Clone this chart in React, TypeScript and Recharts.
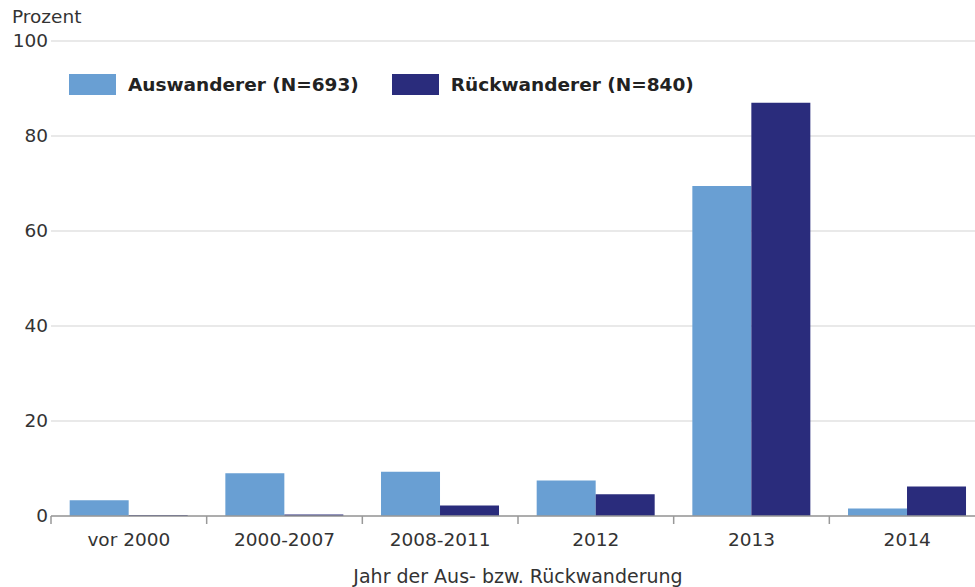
import React from "react";
import { BarChart, Bar, XAxis, YAxis, CartesianGrid, Legend } from "recharts";

const categories = ["vor 2000", "2000-2007", "2008-2011", "2012", "2013", "2014"];
const auswanderer = [3.3, 9.0, 9.3, 7.5, 69.5, 1.6];
const rueckwanderer = [0.2, 0.3, 2.2, 4.6, 87.0, 6.2];
const yTicks = [0, 20, 40, 60, 80, 100];

const AUS_COLOR = "#699fd3";
const RUECK_COLOR = "#2a2c7c";
const FONT = "'DejaVu Sans', Verdana, sans-serif";

const data = categories.map((cat, i) => ({
  cat,
  aus: auswanderer[i],
  rueck: rueckwanderer[i],
}));

// eslint-disable-next-line @typescript-eslint/no-explicit-any
function XTick(props: any) {
  const { x, y, payload, width, visibleTicksCount } = props;
  const half = width / (visibleTicksCount || categories.length) / 2;
  return (
    <g>
      <line x1={x - half} y1={y - 8} x2={x - half} y2={y} stroke="#999" strokeWidth={1.5} />
      <text x={x} y={y + 22} textAnchor="middle" fill="#333" fontSize={18.5} fontFamily={FONT}>
        {payload.value}
      </text>
    </g>
  );
}

// eslint-disable-next-line @typescript-eslint/no-explicit-any
function YTick(props: any) {
  const { y, payload } = props;
  return (
    <text x={48} y={y + 6} textAnchor="end" fill="#333" fontSize={18.5} fontFamily={FONT}>
      {payload.value}
    </text>
  );
}

function renderLegend() {
  const items = [
    { label: "Auswanderer (N=693)", color: AUS_COLOR },
    { label: "Rückwanderer (N=840)", color: RUECK_COLOR },
  ];
  return (
    <div style={{ display: "flex", alignItems: "center", fontFamily: FONT, whiteSpace: "nowrap" }}>
      {items.map((it) => (
        <span
          key={it.label}
          style={{ display: "inline-flex", alignItems: "center", marginRight: 33 }}
        >
          <span style={{ width: 47, height: 21, backgroundColor: it.color, marginRight: 12 }} />
          <span style={{ fontWeight: 700, fontSize: 18.5, color: "#222" }}>{it.label}</span>
        </span>
      ))}
    </div>
  );
}

export default function App() {
  return (
    <div
      style={{
        position: "absolute",
        left: 0,
        top: 0,
        width: 975,
        height: 587,
        overflow: "hidden",
        background: "#fff",
      }}
    >
      <div
        style={{
          position: "absolute",
          left: 12,
          top: 6,
          fontFamily: FONT,
          fontSize: 18.5,
          color: "#333",
        }}
      >
        Prozent
      </div>
      <BarChart
        width={1000}
        height={587}
        data={data}
        margin={{ top: 41, right: 15, bottom: 0, left: 0 }}
        barCategoryGap="12%"
        barGap={0}
      >
        <CartesianGrid vertical={false} stroke="#d4d4d4" strokeWidth={1.2} />
        <XAxis
          dataKey="cat"
          height={71}
          stroke="#999"
          strokeWidth={1.5}
          tickLine={false}
          tick={<XTick />}
          interval={0}
          label={{
            value: "Jahr der Aus- bzw. Rückwanderung",
            position: "insideBottom",
            offset: 4,
            style: { fontFamily: FONT, fontSize: 19, fill: "#333" },
          }}
        />
        <YAxis
          width={51}
          domain={[0, 100]}
          ticks={yTicks}
          axisLine={false}
          tickLine={false}
          tick={<YTick />}
        />
        <Legend
          content={renderLegend}
          layout="horizontal"
          verticalAlign="middle"
          align="center"
          wrapperStyle={{ position: "absolute", top: 74, left: 69, width: "auto" }}
        />
        <Bar dataKey="aus" name="Auswanderer (N=693)" fill={AUS_COLOR} isAnimationActive={false} />
        <Bar dataKey="rueck" name="Rückwanderer (N=840)" fill={RUECK_COLOR} isAnimationActive={false} />
      </BarChart>
    </div>
  );
}
